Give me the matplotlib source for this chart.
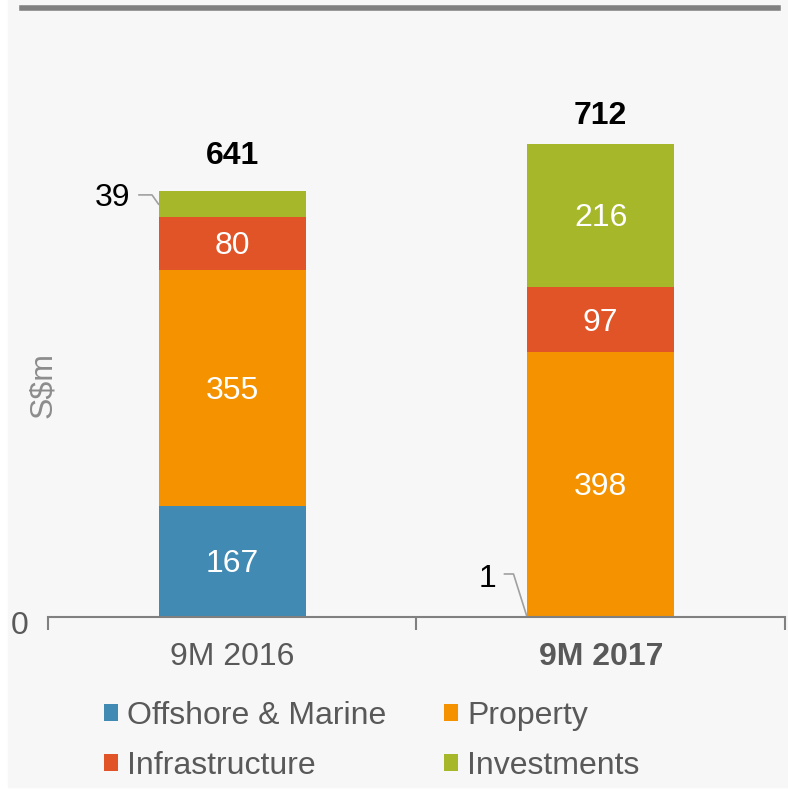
import matplotlib
matplotlib.use("Agg")
import matplotlib.pyplot as plt
from matplotlib.patches import Rectangle
from matplotlib.transforms import ScaledTranslation
import numpy as np

# Daten
periods = ["9M 2016", "9M 2017"]
segments = ["Offshore & Marine", "Property", "Infrastructure", "Investments"]
offshore = [167, 1]
prop = [355, 398]
infra = [80, 97]
invest = [39, 216]
totals = [641, 712]

colors = ["#408ab4", "#f49200", "#e05428", "#a6b82a"]
TEXT = "#595959"
FS = 23
plt.rcParams["font.family"] = ["Liberation Sans", "DejaVu Sans"]

PX = 0.6646  # pixels per S$m

fig = plt.figure(figsize=(7.88, 7.93), dpi=100, facecolor="white")
fig.patches.append(Rectangle((8 / 788, 6 / 793), 780 / 788, 787 / 793,
                             transform=fig.transFigure, color="#f7f7f7", zorder=-10))
# top rule
fig.add_artist(plt.Line2D([22 / 788, 778 / 788], [1 - 8 / 793] * 2,
                          transform=fig.transFigure, color="#808080", lw=4))

ax = fig.add_axes([48 / 788, (793 - 617) / 793, (785 - 48) / 788, (617 - 40) / 793])
ax.set_facecolor("none")

x = np.arange(len(periods))
series = [offshore, prop, infra, invest]
bottom = np.zeros(len(periods))
bars = []
for vals, col, name in zip(series, colors, segments):
    b = ax.bar(x, vals, width=0.40, bottom=bottom, color=col, label=name, zorder=2)
    bars.append(b)
    bottom += np.array(vals)

ax.set_xlim(-0.5, 1.5)
ax.set_ylim(0, 868)

# labels inside bars
for vals, b in zip(series, bars):
    for i, (v, rect) in enumerate(zip(vals, b)):
        if v < 50:
            continue
        ax.text(rect.get_x() + rect.get_width() / 2, rect.get_y() + v / 2 - 3 / PX, str(v),
                ha="center", va="center", color="white", fontsize=FS)

# small segments with leader lines
lead = "#a0a0a0"
ax.text(-0.50 + (113 - 48) / 368.5, (617 - 198) / PX, str(invest[0]),
        ha="center", va="center", fontsize=FS, color="black")
y39 = (617 - 195) / PX
ax.plot([(139 - 48) / 368.5 - 0.5, (152 - 48) / 368.5 - 0.5, -0.2],
        [y39, y39, 641 - 20], color=lead, lw=1.2, zorder=3)
ax.text(0.5 + (488 - 417) / 368.5, (617 - 579) / PX, str(offshore[1]),
        ha="center", va="center", fontsize=FS, color="black")
y1 = (617 - 574) / PX
ax.plot([0.5 + (505 - 417) / 368.5, 0.5 + (514 - 417) / 368.5, 0.8],
        [y1, y1, 0], color=lead, lw=1.2, zorder=3)

# totals
for i, (t, off) in enumerate(zip(totals, (35, 28))):
    ax.text(i, t + off / PX, str(t), ha="center", va="center",
            fontsize=FS, fontweight="bold", color="black")

for s in ["top", "right", "left"]:
    ax.spines[s].set_visible(False)
ax.spines["bottom"].set_color("#808080")
ax.spines["bottom"].set_linewidth(1.5)
ax.spines["bottom"].set_zorder(4)

ax.set_xticks(x)
ax.set_xticklabels(periods, fontsize=FS, color=TEXT)
ax.get_xticklabels()[1].set_fontweight("bold")
ax.tick_params(axis="x", which="major", length=0, pad=18)
ax.set_xticks([-0.5, 0.5, 1.5], minor=True)
ax.tick_params(axis="x", which="minor", length=9, width=1.5, color="#808080")
ax.set_yticks([0])
ax.set_yticklabels(["0"], fontsize=FS, color=TEXT)
ax.tick_params(axis="y", length=0, pad=14)
for tick in ax.yaxis.get_major_ticks():
    tick.label1.set_transform(tick.label1.get_transform()
                              + ScaledTranslation(0, -5 / 100, fig.dpi_scale_trans))

fig.text(43 / 788, 1 - 385 / 793, "S$m", rotation=90, ha="center", va="center",
         fontsize=FS, color="#8c8c8c")

# legend rows: Offshore/Property, Infrastructure/Investments
order = [0, 2, 1, 3]
fig.legend(handles=[bars[k] for k in order], labels=[segments[k] for k in order],
           loc="center", ncol=2, bbox_to_anchor=(372 / 788, 1 - 741 / 793),
           frameon=False, fontsize=FS, labelcolor=TEXT, handlelength=0.42,
           handleheight=0.42, handletextpad=0.3, columnspacing=1.8, labelspacing=0.62)

fig.savefig("out.png", dpi=100, facecolor="white")
